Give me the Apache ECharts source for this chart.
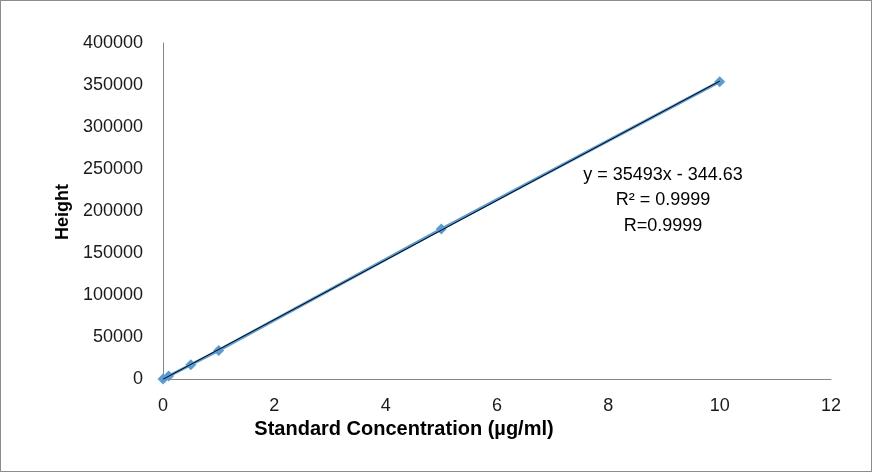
<!DOCTYPE html>
<html><head><meta charset="utf-8">
<script src="https://cdn.jsdelivr.net/npm/echarts@6/dist/echarts.min.js"></script>
<style>html,body{margin:0;padding:0;background:#fff}#c{width:872px;height:472px;box-sizing:border-box;border:1px solid #8c8c8c}</style>
</head><body><div id="c"></div>
<script>
const concentrations = [0, 0.1, 0.5, 1, 5, 10];
const heights = [0, 3500, 17000, 34000, 178500, 354000];
const xTicks = [0, 2, 4, 6, 8, 10, 12];
const yTicks = [0, 50000, 100000, 150000, 200000, 250000, 300000, 350000, 400000];
const slope = 35493, intercept = -344.63;
const trendX = [0, 10];
const eqLines = ['y = 35493x - 344.63', 'R² = 0.9999', 'R=0.9999'];

const font = "'Liberation Sans',sans-serif";
const chart = echarts.init(document.getElementById('c'));
chart.setOption({
  animation: false,
  grid: {left: 162, right: 40, top: 42, bottom: 92, containLabel: false},
  xAxis: {type: 'value', min: xTicks[0], max: xTicks[xTicks.length - 1], interval: 2,
    axisLine: {show: true, lineStyle: {color: '#868686'}}, axisTick: {show: false}, splitLine: {show: false},
    axisLabel: {color: '#1a1a1a', fontSize: 18, fontFamily: font, margin: 18, formatter: v => String(v)}},
  yAxis: {type: 'value', min: yTicks[0], max: yTicks[yTicks.length - 1], interval: 50000,
    axisLine: {show: true, lineStyle: {color: '#868686'}}, axisTick: {show: false}, splitLine: {show: false},
    axisLabel: {color: '#1a1a1a', fontSize: 18, fontFamily: font, margin: 20, formatter: v => String(v)}},
  series: [
    {type: 'line', data: concentrations.map((x, i) => [x, heights[i]]),
     symbol: 'diamond', symbolSize: 11, lineStyle: {color: '#5b9bd5', width: 3},
     itemStyle: {color: '#5b9bd5'}, z: 2},
    {type: 'line', data: trendX.map(x => [x, slope * x + intercept]), symbol: 'none',
     lineStyle: {color: '#000', width: 1}, z: 3}
  ],
  graphic: [
    {type: 'text', x: 403, y: 428, style: {text: 'Standard Concentration (µg/ml)', font: 'bold 20px ' + font, fill: '#000', align: 'center', verticalAlign: 'middle'}},
    {type: 'text', x: 62, y: 211, rotation: Math.PI / 2, style: {text: 'Height', font: 'bold 18px ' + font, fill: '#000', align: 'center', verticalAlign: 'middle'}},
    {type: 'text', x: 662, y: 161, style: {text: eqLines.join('\n'), font: '18px ' + font, fill: '#000', align: 'center', lineHeight: 25.5}}
  ]
});
</script></body></html>
